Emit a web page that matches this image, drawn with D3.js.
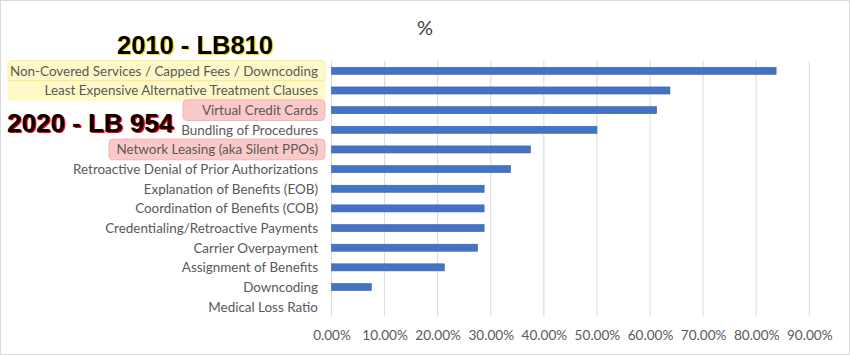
<!DOCTYPE html>
<html><head><meta charset="utf-8">
<script src="https://cdn.jsdelivr.net/npm/d3@7"></script>
<style>body{margin:0;background:#fff}</style>
</head><body>
<script>
const categories = [
  "Non-Covered Services / Capped Fees / Downcoding",
  "Least Expensive Alternative Treatment Clauses",
  "Virtual Credit Cards",
  "Bundling of Procedures",
  "Network Leasing (aka Silent PPOs)",
  "Retroactive Denial of Prior Authorizations",
  "Explanation of Benefits (EOB)",
  "Coordination of Benefits (COB)",
  "Credentialing/Retroactive Payments",
  "Carrier Overpayment",
  "Assignment of Benefits",
  "Downcoding",
  "Medical Loss Ratio"
];
const values = [0.8375, 0.6375, 0.6125, 0.50, 0.375, 0.3375, 0.2875, 0.2875, 0.2875, 0.275, 0.2125, 0.075, 0];
const tickValues = [0,0.1,0.2,0.3,0.4,0.5,0.6,0.7,0.8,0.9];
const title = "%";
const yellowCats = ["Non-Covered Services / Capped Fees / Downcoding","Least Expensive Alternative Treatment Clauses"];
const pinkCats = ["Virtual Credit Cards","Network Leasing (aka Silent PPOs)"];
const note2010 = "2010 - LB810";
const note2020 = "2020 - LB 954";

(function(){
const W = 850, H = 355;
const svg = d3.select("body").append("svg").attr("width", W).attr("height", H);
svg.append("rect").attr("x",0.5).attr("y",0.5).attr("width",W-1).attr("height",H-1)
  .attr("fill","#fff").attr("stroke","#d9d9d9");

const pLeft = 331.5, pRight = 809.3, pTop = 61, pBottom = 316.5;
const x = d3.scaleLinear().domain([0,0.9]).range([pLeft,pRight]);
const y = d3.scaleBand().domain(categories).range([pTop,pBottom]).paddingInner(0.64).paddingOuter(0.32);
const band = y.step();

const labelFont = "Lato, 'Open Sans', sans-serif";

svg.append("g").selectAll("line").data(tickValues.slice(1)).join("line")
  .attr("x1",d=>x(d)).attr("x2",d=>x(d)).attr("y1",pTop).attr("y2",pBottom)
  .attr("stroke","#d9d9d9").attr("stroke-width",1);
svg.append("line").attr("x1",x(0)).attr("x2",x(0)).attr("y1",pTop).attr("y2",pBottom)
  .attr("stroke","#d9d9d9");

function hl(cat, fill, stroke, x0){
  const c = y(cat) + y.bandwidth()/2;
  svg.append("rect").attr("x",x0).attr("y",c-band/2-0.5).attr("width",325-x0).attr("height",band+1)
    .attr("rx",4).attr("fill",fill).attr("stroke",stroke).attr("stroke-width",1);
}
hl(yellowCats[0], "#fff9c8", "#f7ee9e", 8);
hl(yellowCats[1], "#fff9c8", "#fff9c8", 8);
const midY = (y(yellowCats[0])+y(yellowCats[1]))/2 + y.bandwidth()/2;
svg.append("line").attr("x1",8).attr("x2",325).attr("y1",midY).attr("y2",midY)
  .attr("stroke","#f5e98a").attr("stroke-width",1);
hl(pinkCats[0], "#fbc9c9", "#f6b4b4", 183);
hl(pinkCats[1], "#fbc9c9", "#f6b4b4", 109);

svg.append("g").selectAll("rect").data(categories).join("rect")
  .attr("x",x(0)).attr("y",d=>y(d))
  .attr("width",(d,i)=>x(values[i])-x(0)).attr("height",y.bandwidth())
  .attr("fill","#4472c4").attr("stroke","#3a64b0").attr("stroke-width",0.6);

svg.append("g").selectAll("text").data(categories).join("text")
  .attr("x",318).attr("y",d=>y(d)+y.bandwidth()/2).attr("dy","0.36em")
  .attr("text-anchor","end").attr("font-family",labelFont).attr("font-size",13.45)
  .attr("fill","#595959").text(d=>d);

const xAxis = d3.axisBottom(x).tickValues(tickValues).tickFormat(d=>(d*100).toFixed(2)+"%").tickSize(0).tickPadding(14);
const gx = svg.append("g").attr("transform",`translate(0,${pBottom})`).call(xAxis);
gx.select(".domain").remove();
gx.selectAll("text").attr("font-family",labelFont).attr("font-size",13.6).attr("fill","#595959");

svg.append("text").attr("x",425).attr("y",35).attr("text-anchor","middle")
  .attr("font-family",labelFont).attr("font-size",20).attr("fill","#404040").text(title);

function note(t, xx, yy, sh, size){
  svg.append("text").attr("x",xx+1.6).attr("y",yy+1.6).attr("font-family","'Liberation Sans', Arial, sans-serif")
    .attr("font-weight","bold").attr("font-size",size).attr("fill",sh).text(t);
  svg.append("text").attr("x",xx).attr("y",yy).attr("font-family","'Liberation Sans', Arial, sans-serif")
    .attr("font-weight","bold").attr("font-size",size).attr("fill","#000").text(t);
}
note(note2010, 117, 53.5, "#ffe600", 25.5);
note(note2020, 7, 131.5, "#ff0000", 26);
})();
</script>
</body></html>
